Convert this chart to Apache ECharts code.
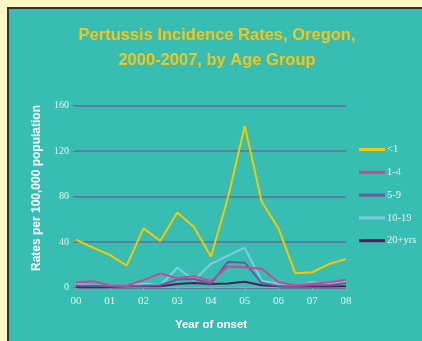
<!DOCTYPE html>
<html><head><meta charset="utf-8">
<script src="https://cdn.jsdelivr.net/npm/echarts@6/dist/echarts.min.js"></script>
<style>html,body{margin:0;padding:0;background:#FFF8C6;}#c{width:422px;height:341px;}</style>
</head><body><div id="c"></div>
<script>
var years = [0,0.5,1,1.5,2,2.5,3,3.5,4,4.5,5,5.5,6,6.5,7,7.5,8];
var tickLabels = ['00','01','02','03','04','05','06','07','08'];
var seriesNames = ['<1','1-4','5-9','10-19','20+yrs'];
var under1 = [42,35,28.6,19.2,52,41,66,53,27,78.6,142,75.6,52,12.5,13.4,20.7,25.1];
var age1to4 = [4.3,5.5,2,1.5,6.5,12.4,8.2,10,5.7,18.5,17.8,16.5,4.7,2,3.3,4.7,6.8];
var age5to9 = [1.5,1.5,1,1,1.5,2,7,7.5,3.5,22.5,21.8,4,1.2,1,2,2,4];
var age10to19 = [3,2,1.5,1.5,3.5,2,17.4,6.4,20.9,28,35,6,3.3,1.2,4.7,3.3,5];
var age20plus = [0.5,0.5,0.5,1,1,1,3,4,3,3.5,5,2,1.2,0.8,0.8,0.8,1];

var colors = ['#F5C800','#C8489A','#6A5A9A','#7FCCE0','#5A1A5A'];
var allData = [under1, age1to4, age5to9, age10to19, age20plus];

function pairs(vals){ return years.map(function(x,i){ return [x, vals[i]]; }); }

var chart = echarts.init(document.getElementById('c'));
chart.setOption({
  backgroundColor: '#FFF8C6',
  animation: false,
  graphic: [{
    type: 'rect', z: -10,
    shape: {x: 8, y: 8, width: 430, height: 350},
    style: {fill: '#37BDB1', stroke: '#2B3535', lineWidth: 2}
  }],
  title: {
    text: 'Pertussis Incidence Rates, Oregon,\n2000-2007, by Age Group',
    left: 212, top: 18, textAlign: 'center',
    textStyle: {color: '#F5C518', fontFamily: 'Liberation Sans, Arial', fontWeight: 'bold', fontSize: 16.5, lineHeight: 25}
  },
  legend: {
    orient: 'vertical', left: 354, top: 139, itemGap: 11.8,
    itemWidth: 26, itemHeight: 3,
    icon: 'rect',
    data: seriesNames,
    textStyle: {color: '#E8F6F2', fontFamily: 'Liberation Serif, Times New Roman, serif', fontSize: 10.5, padding: [0,0,0,-3]}
  },
  grid: {left: 76, right: 76, top: 105.5, bottom: 53.5, containLabel: false},
  xAxis: {
    type: 'value', min: 0, max: 8, interval: 1,
    name: 'Year of onset', nameLocation: 'middle', nameGap: 31,
    nameTextStyle: {color: '#FFFFFF', fontWeight: 'bold', fontSize: 11.5, fontFamily: 'Liberation Sans, Arial'},
    axisLine: {show: true, lineStyle: {color: '#8FA8A8', width: 1}},
    axisTick: {show: true, length: 3, lineStyle: {color: '#8FA8A8'}},
    splitLine: {show: false},
    axisLabel: {color: '#E8F6F2', fontFamily: 'Liberation Serif, Times New Roman, serif', fontSize: 11, margin: 8,
      formatter: function(v){ return tickLabels[Math.round(v)]; }}
  },
  yAxis: {
    type: 'value', min: 0, max: 160, interval: 40,
    name: 'Rates per 100,000 population', nameLocation: 'middle', nameGap: 25,
    nameTextStyle: {color: '#FFFFFF', fontWeight: 'bold', fontSize: 12, fontFamily: 'Liberation Sans, Arial', padding: [0,0,0,17]},
    axisLine: {show: false},
    axisTick: {show: true, length: 3, lineStyle: {color: '#6A6A9A'}},
    splitLine: {show: true, lineStyle: {color: '#6A6A9A', width: 1.5}},
    axisLabel: {color: '#E8F6F2', fontFamily: 'Liberation Serif, Times New Roman, serif', fontSize: 10, margin: 7}
  },
  series: seriesNames.map(function(n, i){
    return {
      name: n, type: 'line', data: pairs(allData[i]),
      showSymbol: false, symbol: 'none',
      z: 10 - i,
      lineStyle: {color: colors[i], width: 2},
      itemStyle: {color: colors[i]}
    };
  })
});
</script></body></html>
